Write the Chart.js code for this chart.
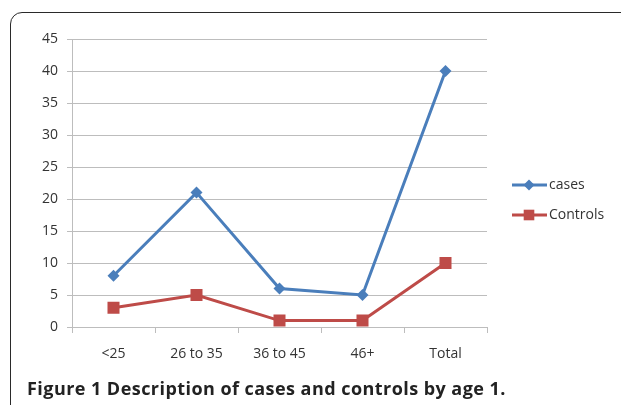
<!DOCTYPE html>
<html>
<head>
<meta charset="utf-8">
<script src="https://cdn.jsdelivr.net/npm/chart.js@4/dist/chart.umd.min.js"></script>
<style>
  html, body { margin: 0; padding: 0; background: #fff; }
  body { width: 621px; height: 405px; position: relative; overflow: hidden; }
  #frame { position: absolute; left: 10px; top: 12px; width: 700px; height: 500px;
           border: 1.5px solid #2a2a2a; border-radius: 12px; box-sizing: border-box; }
  #c { position: absolute; left: 0; top: 0; }
  #caption { position: absolute; left: 27px; top: 379px; font-family: "Open Sans", "Noto Sans", sans-serif;
             font-size: 18px; line-height: 18px; font-weight: 700; color: #222; white-space: nowrap; letter-spacing: 0.45px; }
</style>
</head>
<body>
<div id="frame"></div>
<canvas id="c" width="621" height="405"></canvas>
<div id="caption">Figure 1 Description of cases and controls by age 1.</div>
<script>
const categories = ["<25", "26 to 35", "36 to 45", "46+", "Total"];
const casesValues = [8, 21, 6, 5, 40];
const controlsValues = [3, 5, 1, 1, 10];
const seriesNames = ["cases", "Controls"];
const yTicks = [0, 5, 10, 15, 20, 25, 30, 35, 40, 45];

const BLUE = "#4A7EBB";
const RED = "#BE4B48";
const GRID = "#bdbdbd";
const FONT = "'Open Sans', 'Noto Sans', sans-serif";

function drawMarker(ctx, style, x, y, r, color) {
  ctx.save();
  ctx.fillStyle = color;
  ctx.beginPath();
  if (style === "rectRot") {
    ctx.moveTo(x, y - r); ctx.lineTo(x + r, y); ctx.lineTo(x, y + r); ctx.lineTo(x - r, y);
    ctx.closePath();
  } else {
    const s = Math.SQRT1_2 * r;
    ctx.rect(x - s, y - s, 2 * s, 2 * s);
  }
  ctx.fill();
  ctx.restore();
}

const legendPlugin = {
  id: "lineLegend",
  afterDraw(chart) {
    const ctx = chart.ctx;
    const a = chart.chartArea;
    chart.data.datasets.forEach((ds, i) => {
      const y = a.top + 146 + i * 30;
      const x0 = a.right + 25;
      ctx.save();
      ctx.strokeStyle = ds.borderColor;
      ctx.lineWidth = 3;
      ctx.beginPath();
      ctx.moveTo(x0, y); ctx.lineTo(x0 + 35, y);
      ctx.stroke();
      ctx.restore();
      drawMarker(ctx, ds.pointStyle, x0 + 17, y, ds.pointStyle === "rectRot" ? 5.5 : 7.5, ds.borderColor);
      ctx.save();
      ctx.fillStyle = "#333";
      ctx.font = "14px " + FONT;
      ctx.textBaseline = "middle";
      ctx.textAlign = "left";
      ctx.fillText(ds.label, x0 + 37, y);
      ctx.restore();
    });
  }
};

new Chart(document.getElementById("c"), {
  type: "line",
  data: {
    labels: categories,
    datasets: [
      { label: seriesNames[0], data: casesValues, borderColor: BLUE, backgroundColor: BLUE,
        borderWidth: 3, pointStyle: "rectRot", pointRadius: 6, pointBorderWidth: 0, tension: 0 },
      { label: seriesNames[1], data: controlsValues, borderColor: RED, backgroundColor: RED,
        borderWidth: 3, pointStyle: "rect", pointRadius: 8.5, pointBorderWidth: 0, tension: 0 }
    ]
  },
  options: {
    responsive: false,
    animation: false,
    devicePixelRatio: 1,
    layout: { padding: { left: 0, top: 39, right: 134, bottom: 38 } },
    plugins: { legend: { display: false }, tooltip: { enabled: false } },
    scales: {
      x: {
        offset: true,
        grid: { offset: true, drawOnChartArea: false, drawTicks: true, tickLength: 6, color: GRID, lineWidth: 1 },
        border: { color: GRID, width: 1 },
        ticks: { color: "#333", font: { family: FONT, size: 14 }, padding: 13, maxRotation: 0 },
        afterFit(s) { s.height = 40; }
      },
      y: {
        min: 0, max: 45,
        afterBuildTicks(s) { s.ticks = yTicks.map(v => ({ value: v })); },
        grid: { color: GRID, lineWidth: 1, tickLength: 5 },
        border: { color: GRID, width: 1 },
        ticks: { color: "#333", font: { family: FONT, size: 14 }, padding: 9 },
        afterFit(s) { s.width = 72; }
      }
    }
  },
  plugins: [legendPlugin]
});
</script>
</body>
</html>
